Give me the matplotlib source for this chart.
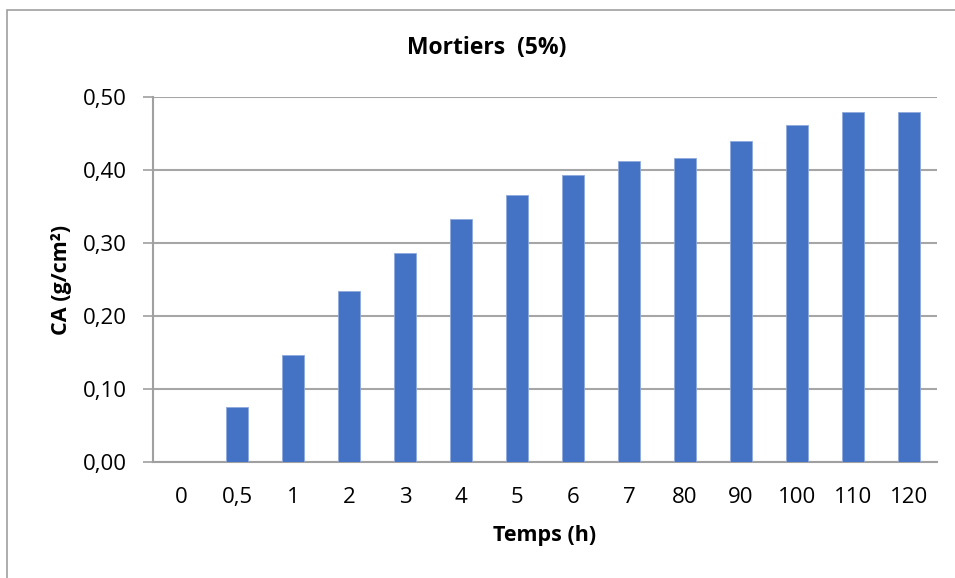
import matplotlib
matplotlib.use("Agg")
import matplotlib.pyplot as plt
from matplotlib.patches import Rectangle

plt.rcParams['font.family'] = ['Open Sans', 'DejaVu Sans']

categories = ["0", "0,5", "1", "2", "3", "4", "5", "6", "7", "80", "90", "100", "110", "120"]
ca_values = [0.0, 0.075, 0.146, 0.234, 0.286, 0.333, 0.366, 0.393, 0.413, 0.416, 0.440, 0.462, 0.479, 0.479]
y_ticks = [0.0, 0.1, 0.2, 0.3, 0.4, 0.5]
y_tick_labels = ["0,00", "0,10", "0,20", "0,30", "0,40", "0,50"]

W, H = 955, 578
fig = plt.figure(figsize=(W / 100, H / 100), dpi=100)

# chart frame
fig.patches.append(Rectangle((7 / W, -0.1), 1.2, (H - 10) / H + 0.1, transform=fig.transFigure,
                             fill=False, edgecolor="#a0a0a0", linewidth=1.2))

ax = fig.add_axes([153 / W, 1 - 462 / H, (937 - 153) / W, (462 - 97) / H])
x = range(len(categories))
ax.bar(x, ca_values, width=0.41, color="#4472C4", edgecolor="#8faadc", linewidth=0.6, zorder=3)

ax.set_xlim(-0.5, len(categories) - 0.5)
ax.set_ylim(0, 0.5)
ax.set_xticks(list(x))
ax.set_xticklabels(categories, fontsize=16)
ax.set_yticks(y_ticks)
ax.set_yticklabels(y_tick_labels, fontsize=16)
ax.tick_params(axis="x", length=0, pad=18)
ax.tick_params(axis="y", length=7, width=1.2, color="#a0a0a0", pad=12)

ax.grid(axis="y", color="#a6a6a6", linewidth=1.5, zorder=0)
ax.set_axisbelow(True)
for s in ["top", "right"]:
    ax.spines[s].set_visible(False)
for s in ["left", "bottom"]:
    ax.spines[s].set_color("#a0a0a0")
    ax.spines[s].set_linewidth(1.5)

ax.set_xlabel("Temps (h)", fontsize=15.5, fontweight="bold", labelpad=12)
ax.set_ylabel("CA (g/cm²)", fontsize=15.5, fontweight="bold", labelpad=8)

fig.text(487 / W, 1 - 48 / H, "Mortiers  (5%)", ha="center", va="center", fontsize=16.5, fontweight="bold")

fig.savefig("out.png", dpi=100)
